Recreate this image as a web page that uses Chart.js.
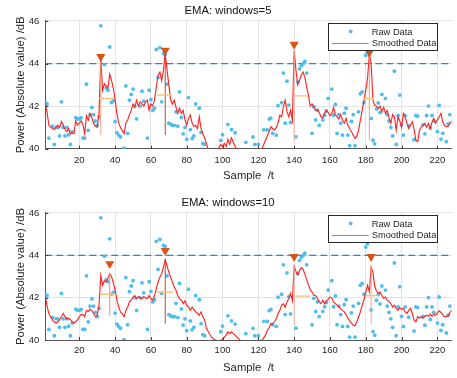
<!DOCTYPE html>
<html><head><meta charset="utf-8">
<script src="https://cdn.jsdelivr.net/npm/chart.js@4.4.1/dist/chart.umd.min.js"></script>
<style>
html,body{margin:0;padding:0;background:#fff;}
#wrap{position:relative;width:457px;height:378px;overflow:hidden;background:#fff;}
canvas{position:absolute;left:0;}
#c1{top:0;} #c2{top:192px;}
</style></head><body>
<div id="wrap"><canvas id="c1" width="457" height="192"></canvas><canvas id="c2" width="457" height="186"></canvas></div>
<script>
// ---------------- data ----------------
const sampleMin = 1, sampleMax = 228;
const xTicks = [20, 40, 60, 80, 100, 120, 140, 160, 180, 200, 220];
const yTicks = [40, 42, 44, 46];
const threshold = 44;
const titles = ['EMA: windows=5', 'EMA: windows=10'];
const xLabel = 'Sample  /t';
const yLabel = 'Power (Absolute value) /dB';
const legendLabels = ['Raw Data', 'Smoothed Data'];

const rawX = [1,2,3,5,6,7,8,9,10,11,12,13,14,15,16,18,19,20,21,22,23,24,25,26,27,28,29,30,31,32,34,35,36,37,38,39,40,41,42,43,45,46,47,48,49,50,51,52,54,55,56,58,59,60,61,62,63,64,65,66,67,68,69,70,71,72,73,74,75,76,77,78,79,80,81,82,83,84,85,87,88,89,90,99,100,103,105,107,113,117,118,120,123,125,126,127,128,130,131,133,134,135,136,137,138,141,142,143,144,145,146,147,150,151,152,153,154,156,157,158,159,161,162,163,164,165,166,167,168,169,170,171,172,173,174,176,177,178,179,180,181,183,184,185,186,187,188,189,191,192,193,194,195,196,197,198,199,200,201,202,204,207,208,209,212,213,214,215,216,217,218,220,221,222,223,225,226,227];
const rawY = [42.16,42.1,40.5,41.06,40.2,41.0,41.0,40.6,42.2,41.0,40.6,41.0,40.65,40.2,40.8,41.46,41.4,41.4,41.45,40.5,40.5,43.03,40.86,41.6,41.94,41.6,41.3,41.1,41.5,45.77,43.95,42.85,42.75,44.78,42.17,42.25,41.27,40.75,40.64,40.55,40.02,42.95,40.72,42.28,42.55,42.8,42.0,41.4,42.0,42.7,42.23,40.5,42.75,42.3,41.8,41.9,44.66,43.34,44.75,42.2,44.47,44.42,43.03,41.2,41.15,41.1,41.1,41.73,41.06,42.67,41.47,40.7,41.0,40.44,42.4,40.9,40.48,40.6,42.1,41.9,40.77,40.25,40.2,40.39,40.66,41.14,40.9,40.75,40.3,40.55,40.2,40.2,40.88,40.88,41.39,41.44,40.72,40.64,42.02,42.16,43.55,41.2,43.17,42.05,41.23,40.56,43.14,43.75,43.9,44.0,44.1,43.55,40.72,41.97,41.35,41.8,41.1,41.35,41.57,41.77,42.36,42.8,41.57,42.08,40.72,41.6,41.2,40.64,41.67,41.9,40.64,40.14,41.28,41.6,40.14,41.73,42.58,42.67,42.16,44.39,44.55,41.42,40.4,40.23,41.87,42.15,41.7,42.55,42.36,41.6,41.3,41.0,40.6,43.64,40.2,41.56,42.52,41.12,40.64,41.56,41.08,40.42,41.56,41.53,41.12,40.7,41.56,42.0,40.97,41.56,41.3,40.8,42.03,40.45,40.72,40.33,41.17,41.6];

const ema5 = [
42.16,41.7,41.1,41.0,40.95,40.9,41.0,41.1,41.0,41.27,
41.1,40.9,40.8,40.95,40.7,40.75,40.7,41.3,41.1,41.2,
41.3,41.15,40.7,41.55,41.35,41.65,41.45,41.2,41.05,41.0,
41.65,44.25,42.75,43.05,42.95,42.85,43.5,43.2,42.85,42.3,
41.65,41.2,41.0,40.85,40.7,41.2,41.35,41.6,41.8,42.1,
41.95,42.28,42.0,42.2,42.1,42.0,42.2,42.28,41.8,42.1,
42.0,42.28,42.9,43.45,43.6,43.2,43.7,44.45,43.7,43.0,
42.3,42.1,42.28,41.95,41.66,41.9,41.66,41.8,41.35,41.1,
41.42,41.58,41.2,41.05,41.1,40.95,41.5,40.95,40.7,40.5,
40.25,39.95,39.8,39.7,39.8,39.75,39.9,40.05,40.2,40.1,
40.25,40.1,40.44,40.2,40.5,40.3,40.1,39.95,39.8,39.7,
39.6,39.7,39.8,39.75,39.7,39.8,39.7,39.8,39.85,39.85,
39.9,39.98,40.2,40.4,40.6,40.8,41.03,40.95,40.87,41.0,
41.2,41.58,41.5,41.97,42.28,41.75,41.5,41.8,41.34,44.6,
43.7,43.0,43.2,43.45,43.6,43.35,42.9,42.5,42.0,42.1,
41.95,41.8,41.85,41.7,41.5,41.45,41.66,41.8,41.7,41.55,
41.66,41.94,41.6,41.5,41.4,41.6,41.34,41.2,41.42,41.1,
40.95,40.8,40.64,40.48,40.6,40.87,41.34,41.8,42.28,42.75,
43.3,44.45,44.0,42.28,42.05,42.0,41.9,42.0,41.73,41.95,
41.66,41.8,41.45,41.19,41.6,41.5,40.87,41.5,41.3,41.0,
41.66,41.5,41.2,40.95,41.1,41.27,40.9,40.4,40.33,40.87,
41.03,41.1,41.19,41.0,41.19,40.95,41.25,41.42,41.2,41.35,
41.5,41.66,41.25,41.1,41.03,41.05,41.19,41.3];

const ema10 = [
42.1,41.6,41.25,41.1,40.95,40.86,40.8,40.85,40.95,41.1,
41.25,41.1,41.0,41.02,40.97,40.86,40.8,40.86,40.95,41.1,
41.2,41.2,41.1,41.4,41.35,41.45,41.4,41.25,41.1,41.17,
41.64,43.05,42.58,42.8,42.74,42.9,43.13,43.0,42.7,42.35,
41.88,41.56,41.33,41.25,41.1,41.4,41.55,41.8,41.88,42.03,
42.1,41.95,42.05,41.98,41.95,42.05,41.98,41.95,42.1,41.95,
41.88,42.1,42.43,42.74,42.97,43.13,43.44,43.8,43.5,43.2,
42.97,42.74,42.5,42.35,42.1,41.95,41.88,41.72,41.85,41.64,
41.56,41.4,41.56,41.45,41.33,41.25,41.17,41.33,41.1,40.95,
40.55,40.4,40.25,40.12,40.05,40.0,39.97,39.96,39.98,40.05,
40.13,40.23,40.39,40.3,40.39,40.3,40.23,40.15,40.05,39.98,
39.92,39.88,39.85,39.83,39.82,39.82,39.84,39.86,39.9,39.95,
39.98,40.0,40.1,40.23,40.45,40.58,40.78,40.75,40.86,41.0,
41.25,41.4,41.64,41.72,41.55,41.8,41.96,42.2,41.85,43.47,
43.25,43.08,43.28,43.42,43.35,43.1,42.85,42.6,42.38,42.27,
42.1,42.1,41.96,41.8,41.72,41.88,41.72,41.85,41.92,42.03,
41.98,41.8,41.72,41.64,41.56,41.49,41.4,41.33,41.2,41.05,
40.9,40.8,40.7,40.67,40.86,41.1,41.33,41.64,41.9,42.25,
42.58,42.27,43.44,43.2,42.55,42.3,42.2,42.27,42.1,41.96,
42.03,41.88,41.8,41.72,41.56,41.64,41.49,41.4,41.52,41.45,
41.49,41.33,41.25,41.4,41.49,41.25,40.94,40.86,41.1,41.04,
41.1,41.03,41.12,41.17,41.12,41.22,41.12,41.22,41.17,41.28,
41.38,41.3,41.2,41.08,41.12,41.12,41.3,41.4];

// peaks (window 5)
const peakX5 = [32, 68, 140, 182];
const markerY5 = [44.32, 44.62, 44.9, 44.52];
const promBase5 = [40.64, 40.64, 40.33, 40.41];
const halfY5 = [42.36, 42.52, 42.48, 42.36];
const halfL5 = [31.0, 63.1, 140.0, 179.0];
const halfR5 = [39.3, 71.5, 147.7, 184.5];
// peaks (window 10)
const peakX10 = [37, 68, 140, 183];
const markerY10 = [43.6, 44.22, 43.94, 43.94];
const promBase10 = [41.13, 40.78, 40.7, 40.75];
const halfY10 = [42.16, 42.27, 42.07, 42.1];
const halfL10 = [31.4, 62.9, 140.0, 180.0];
const halfR10 = [40.3, 72.4, 149.2, 186.7];

// ---------------- styles ----------------
const FONT = "'Liberation Sans', Arial, Helvetica, sans-serif";
const TXT = '#262626';
const RAW_COLOR = '#4DBEEE';
const SMOOTH_COLOR = '#FF2424';
const LEGEND_LINE = '#EC6A3F';
const PEAK_COLOR = '#D95319';
const HALF_COLOR = '#F6C47E';
const THR_COLOR = '#2D83CC';

const legendPlugin = {
  id: 'boxLegend',
  afterDraw(chart) {
    const ctx = chart.ctx, a = chart.chartArea;
    const L = a.right - 124, T = a.top + 2, W = 109, H = 27;
    ctx.save();
    ctx.fillStyle = '#fff';
    ctx.fillRect(L, T, W, H);
    ctx.strokeStyle = '#262626'; ctx.lineWidth = 1;
    ctx.strokeRect(Math.round(L) + 0.5, Math.round(T) + 0.5, W, H);
    ctx.fillStyle = RAW_COLOR;
    ctx.beginPath(); ctx.arc(L + 23, T + 8.5, 1.9, 0, Math.PI * 2); ctx.fill();
    ctx.strokeStyle = LEGEND_LINE; ctx.lineWidth = 1;
    ctx.beginPath(); ctx.moveTo(L + 4, T + 20.5); ctx.lineTo(L + 41, T + 20.5); ctx.stroke();
    ctx.fillStyle = TXT;
    ctx.font = '9.3px ' + FONT;
    ctx.textBaseline = 'middle'; ctx.textAlign = 'left';
    ctx.fillText(chart.data.datasets[1].label, L + 44, T + 9);
    ctx.fillText(chart.data.datasets[2].label, L + 44, T + 20.5);
    ctx.restore();
  }
};

const inwardTicks = {
  id: 'inwardTicks',
  afterDatasetsDraw(chart) {
    const ctx = chart.ctx, a = chart.chartArea, xs = chart.scales.x, ys = chart.scales.y;
    ctx.save();
    ctx.strokeStyle = '#404040'; ctx.lineWidth = 1;
    ctx.beginPath();
    xTicks.forEach(v => { const p = Math.round(xs.getPixelForValue(v)) + 0.5; ctx.moveTo(p, a.bottom); ctx.lineTo(p, a.bottom - 3); });
    yTicks.forEach(v => { const p = Math.round(ys.getPixelForValue(v)) + 0.5; ctx.moveTo(a.left, p); ctx.lineTo(a.left + 3, p); });
    ctx.stroke();
    ctx.restore();
  }
};

function makeChart(id, cfg) {
  const datasets = [];
  datasets.push({ type: 'line', label: 'threshold', data: [{x: sampleMin, y: threshold}, {x: sampleMax, y: threshold}],
    borderColor: THR_COLOR, borderWidth: 1.2, borderDash: [7, 4], pointRadius: 0, order: 6 });
  datasets.push({ type: 'scatter', label: legendLabels[0], data: rawX.map((x, i) => ({x, y: rawY[i]})),
    backgroundColor: RAW_COLOR, borderWidth: 0, pointRadius: 1.9, order: 5 });
  datasets.push({ type: 'line', label: legendLabels[1], data: cfg.smooth.map((v, i) => ({x: sampleMin + i, y: v})),
    borderColor: SMOOTH_COLOR, borderWidth: 1.15, pointRadius: 0, tension: 0, order: 4 });
  cfg.peakX.forEach((px, k) => {
    datasets.push({ type: 'line', label: 'prom' + k, data: [{x: px, y: cfg.base[k]}, {x: px, y: cfg.smooth[px - sampleMin]}],
      borderColor: cfg.vColors[k], borderWidth: 1, pointRadius: 0, order: 3 });
    datasets.push({ type: 'line', label: 'width' + k, data: [{x: cfg.hwL[k], y: cfg.hwY[k]}, {x: cfg.hwR[k], y: cfg.hwY[k]}],
      borderColor: HALF_COLOR, borderWidth: 1.4, pointRadius: 0, order: 2 });
  });
  datasets.push({ type: 'scatter', label: 'peaks', data: cfg.peakX.map((x, k) => ({x, y: cfg.markerY[k]})),
    pointStyle: 'triangle', rotation: 180, pointRadius: 5.3, backgroundColor: PEAK_COLOR, borderColor: PEAK_COLOR, borderWidth: 0, order: 1 });

  return new Chart(document.getElementById(id), {
    type: 'line',
    data: { datasets },
    plugins: [inwardTicks, legendPlugin],
    options: {
      responsive: false, animation: false, events: [],
      layout: { padding: { left: 0, right: 1, top: 0, bottom: 0 } },
      plugins: {
        legend: { display: false }, tooltip: { enabled: false },
        title: { display: true, text: cfg.title, color: '#111', font: { family: FONT, size: 11.3, weight: 'normal' },
          padding: { top: 4.5, bottom: 2.9 } }
      },
      scales: {
        x: { type: 'linear', min: sampleMin, max: sampleMax,
          afterBuildTicks: s => { s.ticks = xTicks.map(v => ({value: v})); },
          afterFit: s => { s.height = cfg.xAxisH; },
          grid: { color: '#E3E3E3', lineWidth: 1, drawTicks: false },
          border: { color: '#555', width: 1 },
          ticks: { padding: cfg.xTickPad, color: TXT, font: { family: FONT, size: 9.5 }, maxRotation: 0, autoSkip: false },
          title: { display: true, text: xLabel, color: TXT, font: { family: FONT, size: 11.3 }, padding: { top: 0, bottom: cfg.xTitlePad } } },
        y: { type: 'linear', min: 40, max: 46,
          afterBuildTicks: s => { s.ticks = yTicks.map(v => ({value: v})); },
          afterFit: s => { s.width = 45.3; },
          grid: { color: '#E3E3E3', lineWidth: 1, drawTicks: false },
          border: { color: '#555', width: 1 },
          ticks: { padding: 6, color: TXT, font: { family: FONT, size: 9.5 } },
          title: { display: true, text: yLabel, color: TXT, font: { family: FONT, size: 11.3 }, padding: { top: 14, bottom: 0 } } }
      }
    }
  });
}

makeChart('c1', { title: titles[0], smooth: ema5, peakX: peakX5, markerY: markerY5, base: promBase5,
  hwY: halfY5, hwL: halfL5, hwR: halfR5, vColors: ['#F2A080', '#C4472A', '#F4B09C', '#EE9C84'],
  xAxisH: 43.3, xTickPad: 5.5, xTitlePad: 9.2 });
makeChart('c2', { title: titles[1], smooth: ema10, peakX: peakX10, markerY: markerY10, base: promBase10,
  hwY: halfY10, hwL: halfL10, hwR: halfR10, vColors: ['#E88E70', '#C4472A', '#F4B09C', '#F0A48C'],
  xAxisH: 38, xTickPad: 5, xTitlePad: 3.2 });
</script>
</body></html>
